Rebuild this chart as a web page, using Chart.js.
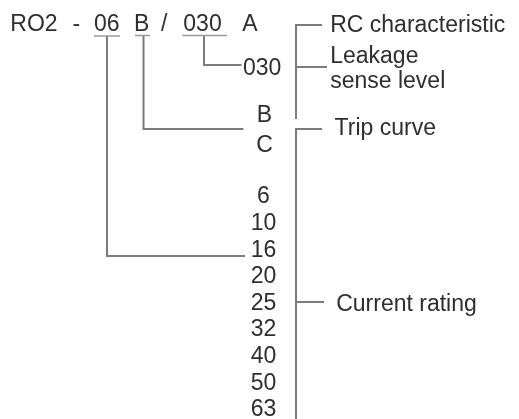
<!DOCTYPE html>
<html>
<head>
<meta charset="utf-8">
<script src="https://cdn.jsdelivr.net/npm/chart.js@4"></script>
<style>
  html, body { margin: 0; padding: 0; background: #ffffff; }
  #diagrama { display: block; }
</style>
</head>
<body>
<canvas id="diagrama" width="519" height="419"></canvas>
<script>
// Datos del código de referencia
const partesCodigo = ['RO2', '-', '06', 'B', '/', '030', 'A'];
const nivelesFuga = ['030'];
const curvasDisparo = ['B', 'C'];
const corrientes = ['6', '10', '16', '20', '25', '32', '40', '50', '63'];
const etiquetas = ['RC characteristic', 'Leakage', 'sense level', 'Trip curve', 'Current rating'];

// Posiciones en unidades del diagrama (0..519 x 0..419)
const centroPartes = [34, 76.3, 106.8, 141.7, 164.2, 202.5, 250];
const baseCabecera = 31;
const posFuga = { x: 262.2, base: 75 };
const posCurvas = { x: 264.5, base: 121.7, paso: 29.8 };
const posCorrientes = { x: 263.5, base: 203.3, paso: 26.6 };
const posEtiquetas = [
  { x: 330.2, base: 31.7 },
  { x: 330.2, base: 63.3 },
  { x: 330.2, base: 88.3 },
  { x: 334.6, base: 135 },
  { x: 336.2, base: 310.7 }
];

// Trazos: subrayados, conectores y corchetes
const subrayados = [
  [[94, 36], [120, 36]],
  [[135, 35.5], [150, 35.5]],
  [[182.5, 35.5], [227, 35.5]]
];
const conectores = [
  [[107, 36], [107, 256], [245, 256]],
  [[143.5, 35.5], [143.5, 129], [243.5, 129]],
  [[204, 35.5], [204, 65], [241.5, 65]]
];
const corchetes = [
  [[322, 25], [296, 25], [296, 119]],
  [[296, 67], [327, 67]],
  [[322, 129], [296, 129], [296, 419]],
  [[296, 302], [324, 302]]
];

const colores = {
  texto: '#2e2e2e',
  linea: '#7c7c7c',
  subrayado: '#9a9a9a'
};
const fuente = '23px "Liberation Sans", Arial, sans-serif';

function aPuntos(tramo) {
  return tramo.map(p => ({ x: p[0], y: p[1] }));
}

const datasets = [];
subrayados.forEach(t => datasets.push({
  data: aPuntos(t), showLine: true, pointRadius: 0,
  borderColor: colores.subrayado, borderWidth: 1.5
}));
conectores.concat(corchetes).forEach(t => datasets.push({
  data: aPuntos(t), showLine: true, pointRadius: 0,
  borderColor: colores.linea, borderWidth: 2
}));

// Plugin para los textos
const textos = {
  id: 'textos',
  afterDatasetsDraw(chart) {
    const { ctx, scales: { x, y } } = chart;
    ctx.save();
    ctx.font = fuente;
    ctx.fillStyle = colores.texto;
    ctx.textBaseline = 'alphabetic';

    ctx.textAlign = 'center';
    partesCodigo.forEach((p, i) => {
      ctx.fillText(p, x.getPixelForValue(centroPartes[i]), y.getPixelForValue(baseCabecera));
    });
    nivelesFuga.forEach(n => {
      ctx.fillText(n, x.getPixelForValue(posFuga.x), y.getPixelForValue(posFuga.base));
    });
    curvasDisparo.forEach((c, i) => {
      ctx.fillText(c, x.getPixelForValue(posCurvas.x), y.getPixelForValue(posCurvas.base + i * posCurvas.paso));
    });
    corrientes.forEach((c, i) => {
      ctx.fillText(c, x.getPixelForValue(posCorrientes.x), y.getPixelForValue(posCorrientes.base + i * posCorrientes.paso));
    });

    ctx.textAlign = 'left';
    etiquetas.forEach((e, i) => {
      ctx.fillText(e, x.getPixelForValue(posEtiquetas[i].x), y.getPixelForValue(posEtiquetas[i].base));
    });
    ctx.restore();
  }
};

new Chart(document.getElementById('diagrama'), {
  type: 'scatter',
  data: { datasets },
  options: {
    responsive: false,
    animation: false,
    layout: { padding: 0 },
    plugins: { legend: { display: false }, tooltip: { enabled: false } },
    scales: {
      x: { type: 'linear', min: 0, max: 519, display: false },
      y: { type: 'linear', min: 0, max: 419, reverse: true, display: false }
    },
    elements: { line: { tension: 0, borderCapStyle: 'butt', borderJoinStyle: 'miter' } }
  },
  plugins: [textos]
});
</script>
</body>
</html>
